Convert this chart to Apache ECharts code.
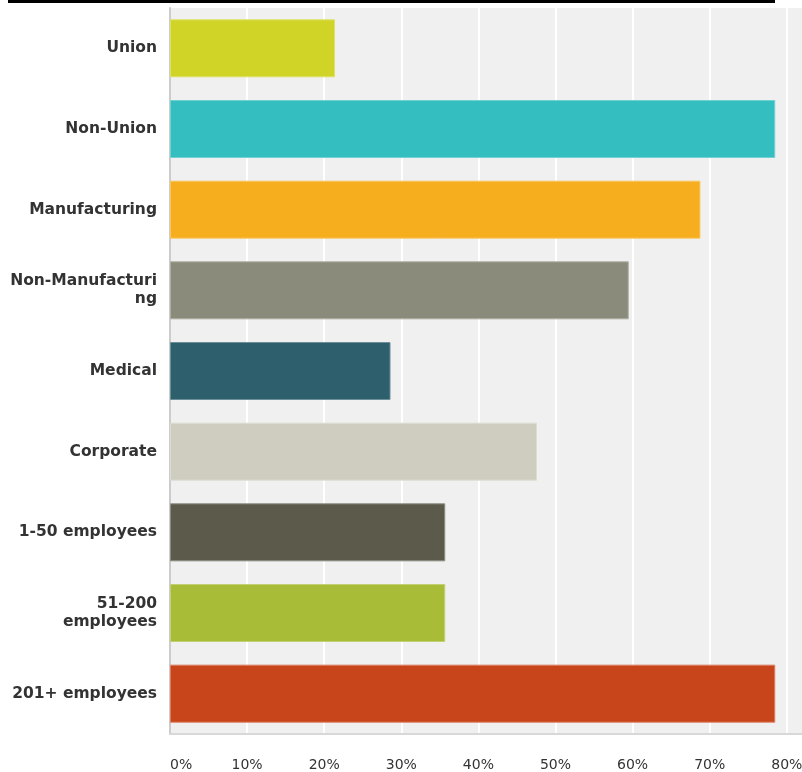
<!DOCTYPE html>
<html>
<head>
<meta charset="utf-8">
<script src="https://cdn.jsdelivr.net/npm/echarts@6/dist/echarts.min.js"></script>
<style>html,body{margin:0;padding:0;background:#fff;overflow:hidden}#c{width:802px;height:772px}</style>
</head>
<body>
<div id="c"></div>
<script>
var categories = ["Union","Non-Union","Manufacturing","Non-Manufacturing","Medical","Corporate","1-50 employees","51-200 employees","201+ employees"];
var values = [21.4, 78.5, 68.8, 59.5, 28.6, 47.6, 35.7, 35.7, 78.5];
var colors = ["#d0d426","#34bec0","#f6ae1e","#8a8b7a","#2e5f6c","#cfcdc0","#5b5a4b","#a8bc38","#c8451b"];
var xTicks = ["0%","10%","20%","30%","40%","50%","60%","70%","80%","90%","100%"];
var wrapped = {"Non-Manufacturing":"Non-Manufacturi\nng","51-200 employees":"51-200\nemployees"};

function lighten(hex, a){
  var r=parseInt(hex.substr(1,2),16),g=parseInt(hex.substr(3,2),16),b=parseInt(hex.substr(5,2),16);
  r=Math.round(r+(255-r)*a);g=Math.round(g+(255-g)*a);b=Math.round(b+(255-b)*a);
  return 'rgb('+r+','+g+','+b+')';
}

var chart = echarts.init(document.getElementById('c'));
chart.setOption({
  animation:false,
  graphic:[{type:'rect',shape:{x:8,y:0,width:767,height:3},style:{fill:'#000'},z:100}],
  grid:{left:170,right:-139,top:8,height:726,show:true,backgroundColor:'#f0f0f0',borderWidth:0,
    containLabel:false,outerBoundsMode:'none'},
  xAxis:{type:'value',min:0,max:100,interval:10,
    axisLine:{show:true,lineStyle:{color:'#d8d8d8',width:2}},
    axisTick:{show:false},
    splitLine:{show:true,lineStyle:{color:'#ffffff',width:2}},
    axisLabel:{margin:24,color:'#333',fontSize:14,fontFamily:'DejaVu Sans, sans-serif',
      alignMinLabel:'left',
      formatter:function(v){return xTicks[Math.round(v/10)];}}
  },
  yAxis:{type:'category',data:categories,inverse:true,
    axisLine:{show:true,lineStyle:{color:'#cccccc',width:2}},
    axisTick:{show:false},
    axisLabel:{margin:13,color:'#333',fontSize:15.5,fontWeight:'bold',lineHeight:18,align:'right',
      fontFamily:'DejaVu Sans, sans-serif',
      formatter:function(v){return wrapped[v]||v;}}
  },
  series:[{type:'bar',barWidth:58,
    data:values.map(function(v,i){return {value:v,itemStyle:{color:colors[i],borderColor:lighten(colors[i],0.3),borderWidth:1}};})
  }]
});
</script>
</body>
</html>
